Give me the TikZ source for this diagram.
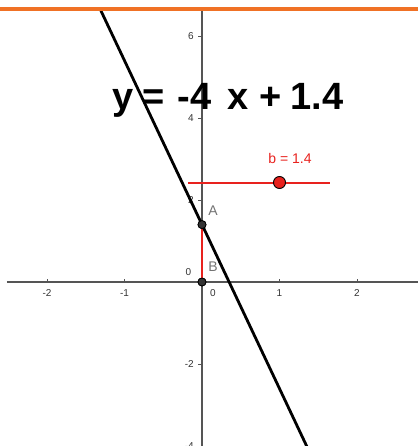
\documentclass[tikz,border=0pt]{standalone}
\usepackage{fontspec}
\setmainfont{Liberation Sans}
\usepackage{xcolor}
\usetikzlibrary{positioning}
\definecolor{barorange}{HTML}{F07125}
\definecolor{ggred}{HTML}{E8221E}
\definecolor{axisgray}{HTML}{555555}

\begin{document}
\begin{tikzpicture}[x=77.5pt,y=41pt,
  axis/.style={draw=axisgray,line width=1.3pt},
  tick/.style={draw=axisgray,line width=0.9pt},
  tlab/.style={font=\fontsize{10}{10}\selectfont,text=black!80,inner sep=0pt},
  pt/.style={circle,draw=black,fill=black!80,line width=0.8pt,inner sep=0pt,minimum size=8pt},
  seg/.style={draw=ggred,line width=2.8pt},
  lbl/.style={font=\fontsize{14}{14}\selectfont,text=black!55,inner sep=0pt},
  graph/.style={draw=black,line width=2.8pt},
  eqn/.style={font=\fontsize{38}{38}\selectfont\bfseries,inner sep=0pt,anchor=base west}]
\useasboundingbox (-202pt,-164pt) rectangle (216pt,282pt);
% axes
\draw[axis] (-195pt,0) -- (216pt,0);
\draw[axis] (0,271pt) -- (0,-164pt);
\foreach \x in {-2,-1,1,2}{
  \draw[tick] (\x,0) -- ++(0,3pt);
  \node[tlab] (xl\x) at ([yshift=-11pt]\x,0) {\x};
}
\node[tlab] (xl0) at (11pt,-11pt) {0};
\foreach \y in {-4,-2,2,4,6}{
  \draw[tick] (0,\y) -- ++(-4pt,0);
  \node[tlab,anchor=east] (yl\y) at ([xshift=-8pt]0,\y) {\y};
}
\node[tlab] (yl0) at (-13.5pt,9.5pt) {0};
% equation
\node[eqn] (eq) at (-90pt,172pt) {y\hspace{9pt}=\hspace{13pt}-4\hspace{16pt}x\hspace{11pt}+\hspace{9pt}1.4};
% points A and B
\node[pt] (A) at (0,1.4) {};
\node[pt] (B) at (0,0) {};
\draw[seg] (A) -- (B);
\coordinate (ltop) at (-1.32,6.68);
\coordinate (lbot) at (1.36,-4.04);
\draw[graph] (ltop) -- (lbot);
\node[pt] at (A) {};
\node[pt] at (B) {};
\node[lbl,above right=6pt and 3pt of A] (Alab) {A};
\node[lbl,above right=7pt and 3pt of B] (Blab) {B};
% slider
\coordinate (s0) at (-14pt,99pt);
\coordinate (s1) at (128pt,99pt);
\draw[seg] (s0) -- (s1);
\node[circle,draw=black,fill=ggred,line width=0.9pt,inner sep=0pt,minimum size=12pt] (bpt) at (77.5pt,99.5pt) {};
\node[font=\fontsize{14}{14}\selectfont,text=ggred,inner sep=0pt] (blab) at (88pt,123pt) {b = 1.4};
% top bar
\fill[barorange] (-202pt,270.5pt) rectangle (216pt,274.5pt);
\end{tikzpicture}
\end{document}
